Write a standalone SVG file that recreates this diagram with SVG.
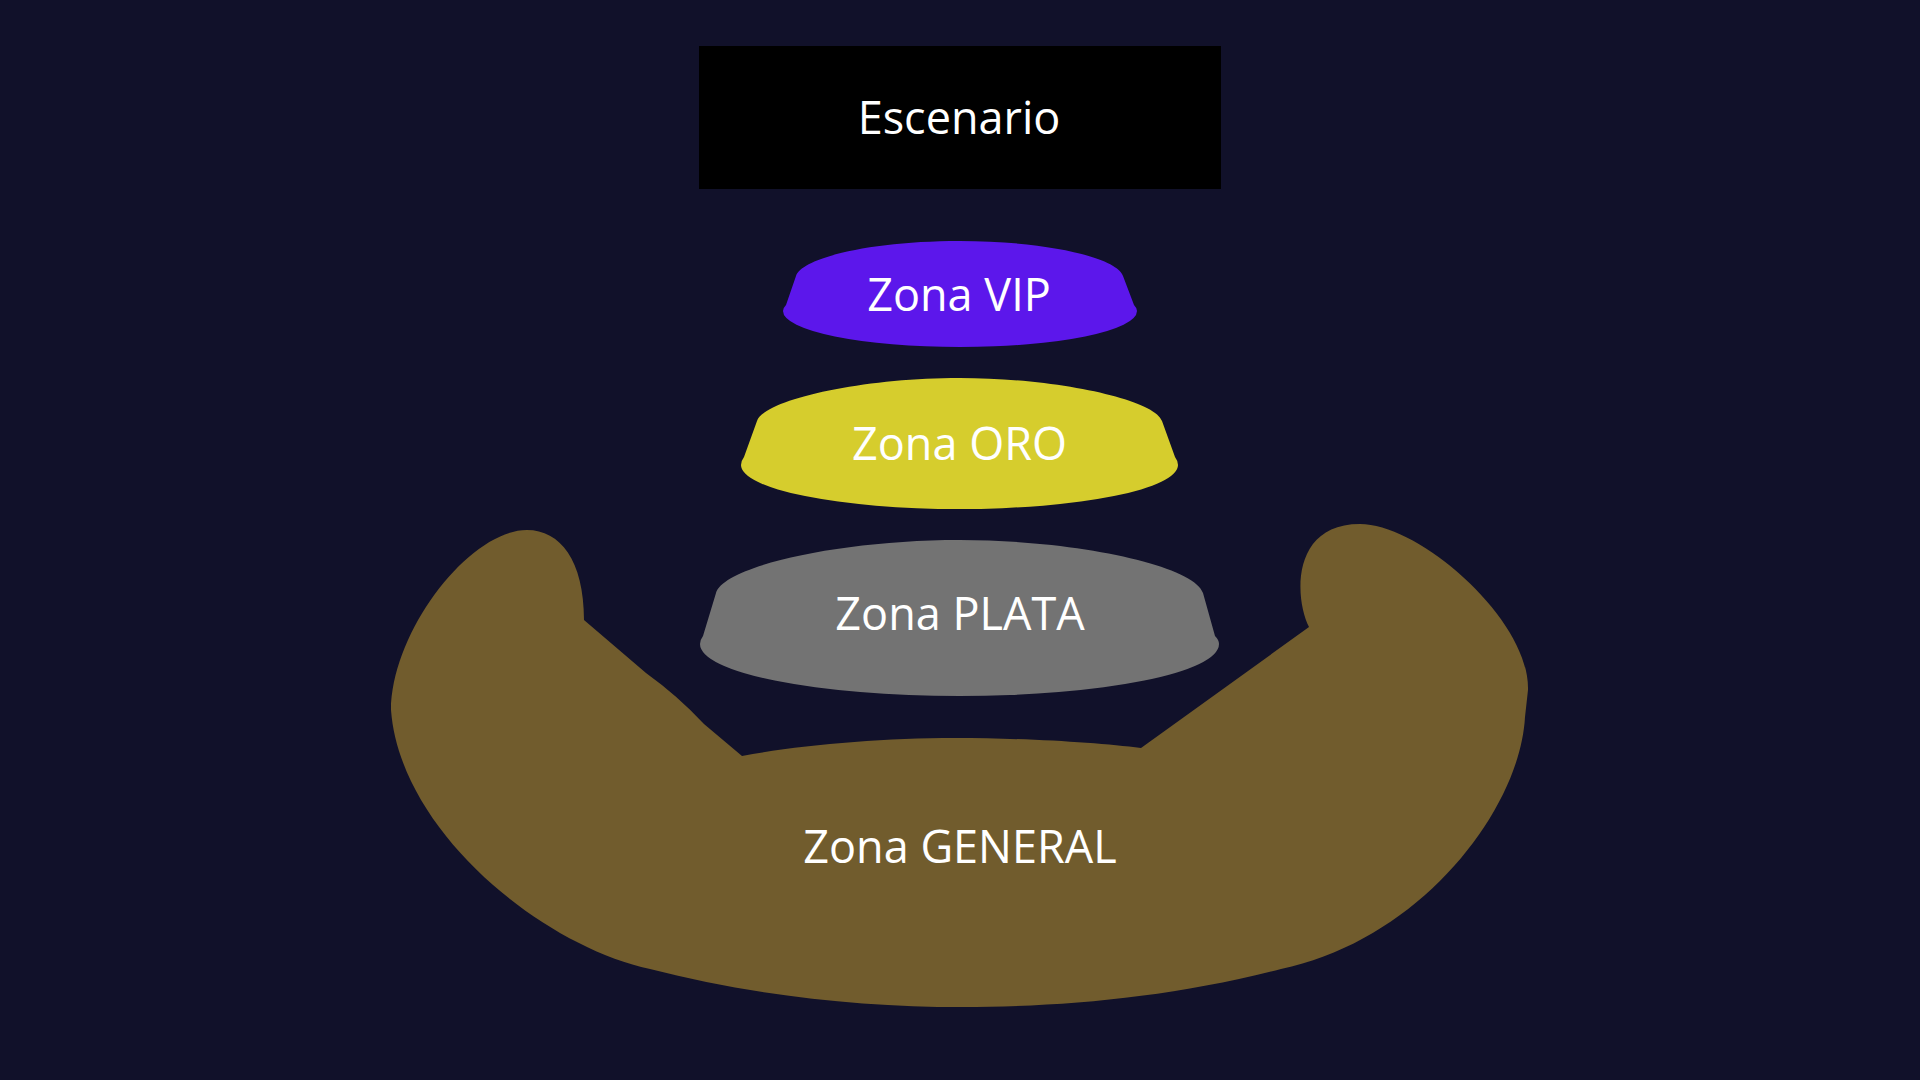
<svg xmlns="http://www.w3.org/2000/svg" width="1920" height="1080" viewBox="0 0 1920 1080">
<style>
.lbl{font-family:"Open Sans","Noto Sans","Liberation Sans",sans-serif;font-size:45px;fill:#ffffff;text-anchor:middle}
</style>
<rect x="0" y="0" width="1920" height="1080" fill="#11112a"/>
<g id="general">
<path fill="#715c2d" d="M 584,620 L 646,673 Q 678,696 704,724 L 742,756 C 800,745 880,738 955,738 C 1030,738 1100,743 1141,748 L 1309,627 C 1295,600 1290,524 1360,524 C 1420,524 1530,620 1528,690 L 1525,717 C 1520,810 1420,940 1281,969 C 1170,998 1060,1007 962,1007 C 860,1007 750,995 650,969 C 540,945 400,830 391,710 C 392,630 470,530 527,530 C 560,530 584,560 584,620 Z"/>
<text class="lbl" x="960" y="863">Zona GENERAL</text>
</g>
<g id="escenario">
<rect x="699" y="46" width="522" height="143" fill="#000000"/>
<text class="lbl" x="959" y="134">Escenario</text>
</g>
<g id="vip">
<path fill="#5c17eb" d="M 786,305 L 796,276 C 802,258 870,241 959.5,241 C 1049,241 1117,258 1123,276 L 1134,305 Q 1137,308 1137,311 A 177,36 0 0 1 783,311 Q 783,308 786,305 Z"/>
<text class="lbl" x="959" y="311">Zona VIP</text>
</g>
<g id="oro">
<path fill="#d6cd2d" d="M 744,457 L 757,421 C 764,400 860,378 959.5,378 C 1059,378 1155,400 1162,421 L 1175,457 Q 1178,461 1178,465 A 218.5,44 0 0 1 741,465 Q 741,461 744,457 Z"/>
<text class="lbl" x="959.5" y="460">Zona ORO</text>
</g>
<g id="plata">
<path fill="#737373" d="M 703,636 L 716,593 C 724,566 840,540 959.5,540 C 1079,540 1195,566 1203,593 L 1215,636 Q 1219,640 1219,644 A 259.5,52 0 0 1 700,644 Q 700,640 703,636 Z"/>
<text class="lbl" x="960" y="630">Zona PLATA</text>
</g>
<g id="connectors"></g>
</svg>
